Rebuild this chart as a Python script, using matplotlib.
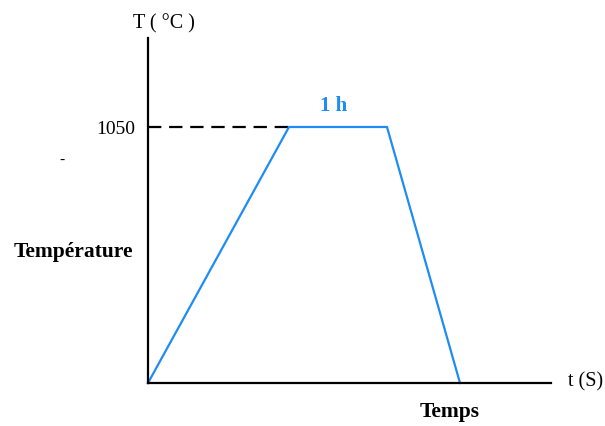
import matplotlib
matplotlib.use("Agg")
import matplotlib.pyplot as plt

# Data (time in arbitrary units, temperature in °C)
times = [0.0, 1.41, 2.39, 3.12]
temps = [0, 1050, 1050, 0]
hold_level = 1050
hold_label = "1 h"

W, H = 605, 426
fig = plt.figure(figsize=(W / 100, H / 100), dpi=100)
plt.rcParams['font.family'] = ['Liberation Serif', 'DejaVu Serif']

ax = fig.add_axes([148 / W, (H - 383) / H, 403 / W, 345 / H])
ax.set_xlim(0, 4.03)
ax.set_ylim(0, 1415)
for s in ['top', 'right']:
    ax.spines[s].set_visible(False)
for s in ['left', 'bottom']:
    ax.spines[s].set_linewidth(1.6)
    ax.spines[s].set_color('black')
ax.set_xticks([])
ax.set_yticks([])
ax.patch.set_alpha(0)

blue = '#1E8CF5'
# Dashed reference line at the hold temperature
ax.plot([0, times[1]], [hold_level, hold_level], color='black', lw=1.6,
        linestyle=(0, (6, 3.5)), clip_on=False)
# Heat treatment cycle
ax.plot(times, temps, color=blue, lw=1.6, clip_on=False, solid_joinstyle='miter')

fig.text(135 / W, 1 - 129 / H, "1050", ha='right', va='center', fontsize=14)
fig.text(334 / W, 1 - 106 / H, hold_label, ha='center', va='center', fontsize=15,
         fontweight='bold', color=blue)

fig.text(133 / W, 1 - 24 / H, "T ( °C )", ha='left', va='center', fontsize=14.5)
fig.text(73 / W, 1 - 252 / H, "Température", ha='center', va='center', fontsize=15.5,
         fontweight='bold')
fig.text(62 / W, 1 - 160 / H, "-", ha='center', va='center', fontsize=11)
fig.text(568 / W, 1 - 382 / H, "t (S)", ha='left', va='center', fontsize=14.5)
fig.text(450 / W, 1 - 412 / H, "Temps", ha='center', va='center', fontsize=15.5,
         fontweight='bold')

fig.savefig("out.png", dpi=100, facecolor='white')
